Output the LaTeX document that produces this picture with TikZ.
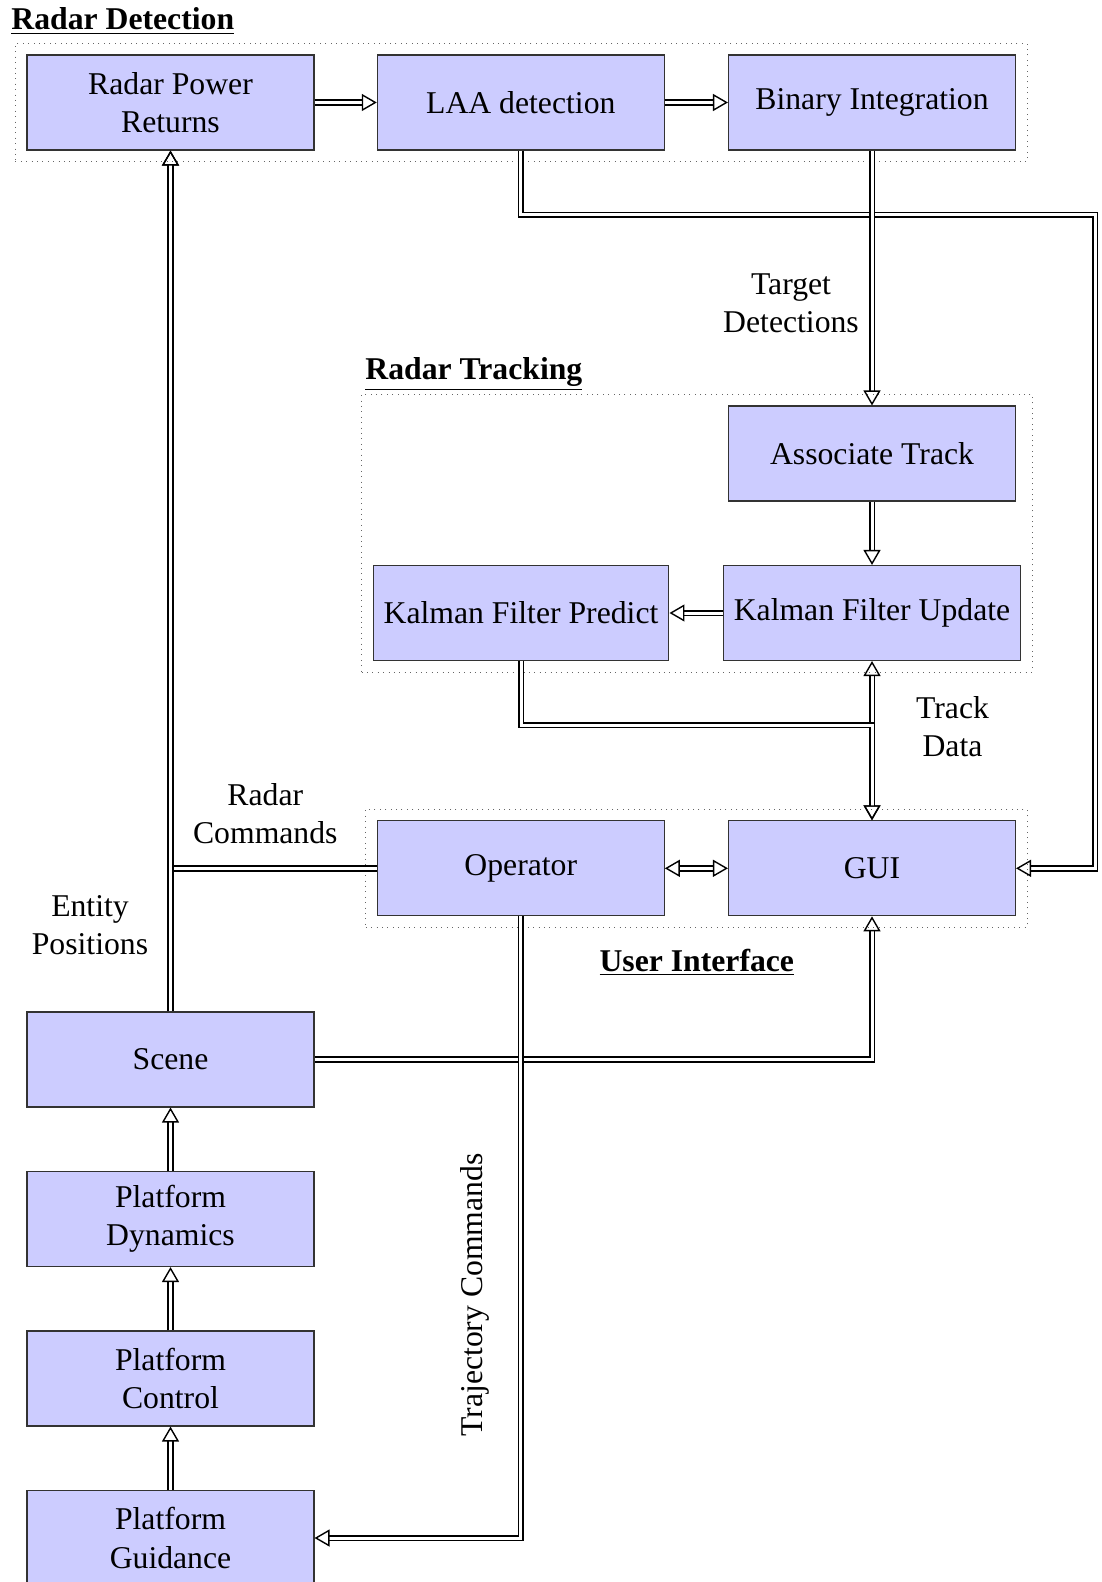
\documentclass[tikz,border=0pt]{standalone}
\usepackage{fontspec}
\setmainfont{Liberation Serif}
\usetikzlibrary{arrows.meta,fit}
\newcommand\myfsz{\fontsize{15.85pt}{19.2pt}\selectfont}
\tikzset{
  every node/.style={font=\myfsz},
  box/.style={draw=black!80, line width=0.55pt, fill=blue!20, minimum width=143.5pt,
    minimum height=47.5pt, inner sep=5.3pt, align=center},
  frame/.style={draw=black!60, line width=0.5pt, dash pattern=on 0.5pt off 2.2pt, inner sep=5.5pt},
  lbl/.style={align=center, inner sep=0pt},
  ttl/.style={inner sep=0pt, font=\myfsz\bfseries},
  otri/.tip={Triangle[open,length=7.5pt,width=8.5pt,line width=0.7pt]},
  conn/.style={double, double distance=1.5pt, line width=0.85pt, -otri},
  biconn/.style={double, double distance=1.5pt, line width=0.85pt, otri-otri},
}
\begin{document}
\begin{tikzpicture}[x=0.5pt, y=-0.5pt]
\useasboundingbox (0,0) rectangle (1101,1582);

% boxes
\node[box] (RPR) at (170.5,102.5) {Radar Power\\Returns};
\node[box] (LAA) at (520.8,102.5) {LAA detection};
\node[box] (BI) at (872,102.5) {Binary Integration};
\node[box] (AT) at (872,453.5) {Associate Track};
\node[box] (KFU) at (872,613) {Kalman Filter Update};
\node[box] (KFP) at (521,613) {Kalman Filter Predict};
\node[box] (Op) at (520.8,868.3) {Operator};
\node[box] (GUI) at (872,868.3) {GUI};
\node[box] (Scene) at (170.5,1059.5) {Scene};
\node[box] (PD) at (170.5,1219) {Platform\\Dynamics};
\node[box] (PC) at (170.5,1378.5) {Platform\\Control};
\node[box] (PG) at (170.5,1538) {Platform\\Guidance};

% frames
\node[frame, fit=(RPR)(LAA)(BI)] (rdframe) {};
\node[frame, fit=(AT)(KFU)(KFP)] (rtframe) {};
\node[frame, fit=(Op)(GUI)] (uiframe) {};

% titles
\node[ttl, anchor=base west] (rdt) at (11,30) {\underline{Radar Detection}};
\node[ttl, anchor=base west] (rtt) at (365,380) {\underline{Radar Tracking}};
\node[ttl, anchor=base] (uit) at (696.8,971.7) {\underline{User Interface}};

% labels
\node[lbl] (tdl) at (791,303.5) {Target\\Detections};
\node[lbl] (tdata) at (952.5,726.5) {Track\\Data};
\node[lbl] (rcl) at (265.3,813.8) {Radar\\Commands};
\node[lbl] (epl) at (90,925) {Entity\\Positions};
\node[lbl, rotate=90] (tcl) at (474.6,1295) {Trajectory Commands};

% connectors
\coordinate (c1) at (1095,215);
\coordinate (c2) at (872,725);
\draw[conn] (RPR) -- (LAA);
\draw[conn] (LAA) -- (BI);
\draw[conn] (LAA.south) |- (c1) |- (GUI.east);
\draw[conn] (BI) -- (AT);
\draw[conn] (AT) -- (KFU);
\draw[conn] (KFU) -- (KFP);
\draw[biconn] (KFU) -- (GUI);
\draw[conn] (KFP.south) |- (c2) -- (GUI.north);
\draw[biconn] (Op) -- (GUI);
\draw[conn] (Op.west) -| (RPR.south);
\draw[conn] (Scene) -- (RPR);
\draw[conn] (Scene.east) -| (GUI.south);
\draw[conn] (PD) -- (Scene);
\draw[conn] (PC) -- (PD);
\draw[conn] (PG) -- (PC);
\draw[conn] (Op.south) |- (PG.east);
\end{tikzpicture}
\end{document}
